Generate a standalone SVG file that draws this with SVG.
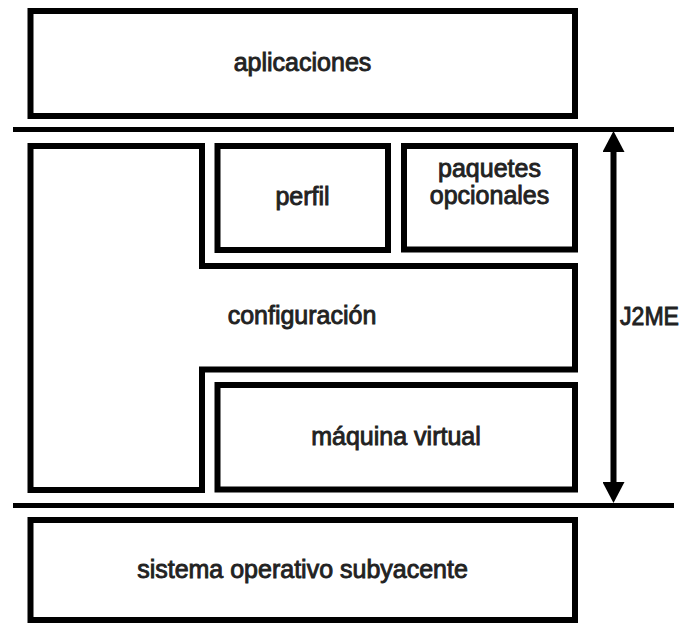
<svg xmlns="http://www.w3.org/2000/svg" width="683" height="623" viewBox="0 0 683 623">
  <style>
    .box { fill: none; stroke: #000; stroke-width: 6; stroke-linejoin: miter; }
    .sep { stroke: #000; stroke-width: 5; }
    .lbl { font-family: "Liberation Sans", Arial, sans-serif; font-size: 25px; font-weight: normal; fill: #222; stroke: #222; stroke-width: 0.9; text-anchor: middle; }
    .side { text-anchor: start; }
    .arrow { stroke: #000; stroke-width: 6; fill: none; }
  </style>
  <defs>
    <marker id="head" viewBox="0 0 22 22" markerWidth="22" markerHeight="22" markerUnits="userSpaceOnUse" refX="0" refY="11" orient="auto-start-reverse">
      <path d="M0,0 L21,11 L0,22 Z" fill="#000"/>
    </marker>
  </defs>
  <rect width="683" height="623" fill="#fff"/>

  <g id="aplicaciones">
    <rect class="box" x="30.5" y="11" width="544.5" height="105"/>
    <text class="lbl" x="302.5" y="71">aplicaciones</text>
  </g>

  <g id="perfil">
    <rect class="box" x="217.5" y="146" width="170.5" height="104"/>
    <text class="lbl" x="302.5" y="205">perfil</text>
  </g>

  <g id="paquetes">
    <rect class="box" x="404" y="146" width="171" height="103.5"/>
    <text class="lbl" x="489.5" y="177">paquetes</text>
    <text class="lbl" x="489.5" y="204">opcionales</text>
  </g>

  <g id="configuracion">
    <path class="box" d="M30.5,146 H202 V266 H575 V369.5 H202 V490 H30.5 Z"/>
    <text class="lbl" x="302" y="324">configuración</text>
  </g>

  <g id="maquina">
    <rect class="box" x="217.5" y="385" width="357.5" height="104.5"/>
    <text class="lbl" x="396" y="445">máquina virtual</text>
  </g>

  <g id="sistema">
    <rect class="box" x="30.5" y="520" width="544.5" height="100"/>
    <text class="lbl" x="302.5" y="578">sistema operativo subyacente</text>
  </g>

  <g id="separators">
    <line class="sep" x1="13" y1="129.5" x2="674" y2="129.5"/>
    <line class="sep" x1="13" y1="505.5" x2="674" y2="505.5"/>
  </g>

  <g id="connectors">
    <line class="arrow" x1="613.5" y1="152" x2="613.5" y2="482" marker-start="url(#head)" marker-end="url(#head)"/>
  </g>

  <g id="j2me">
    <text class="lbl side" x="620" y="325" textLength="59" lengthAdjust="spacingAndGlyphs">J2ME</text>
  </g>
</svg>
